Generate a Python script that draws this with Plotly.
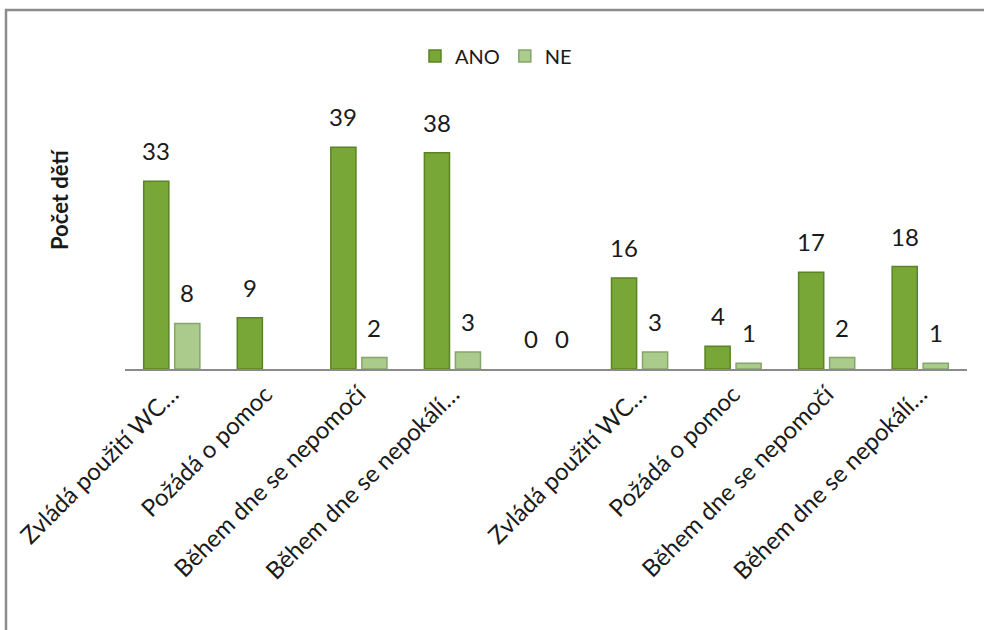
import plotly.graph_objects as go

categories = ["Zvládá použití WC…", "Požádá o pomoc", "Během dne se nepomočí", "Během dne se nepokálí…", "",
              "Zvládá použití WC…", "Požádá o pomoc", "Během dne se nepomočí", "Během dne se nepokálí…"]
ano = [33, 9, 39, 38, 0, 16, 4, 17, 18]
ne = [8, None, 2, 3, 0, 3, 1, 2, 1]
series_names = ["ANO", "NE"]
y_title = "Počet dětí"

W, H = 984, 630
L, R, T, B = 125, 17, 113, 261
pw, ph = W - L - R, H - T - B

def px_x(p):
    return (p - L) / pw

def px_y(p):
    return (H - B - p) / ph

FONT = "Lato"
idx = list(range(len(categories)))

def edge_widths(vals):
    return [1.5 if (v is not None and v > 0) else 0 for v in vals]

fig = go.Figure()
fig.add_trace(go.Bar(x=idx, y=ano, name=series_names[0],
                     marker=dict(color="#79a737", line=dict(color="#5a8424", width=edge_widths(ano)))))
fig.add_trace(go.Bar(x=idx, y=ne, name=series_names[1],
                     marker=dict(color="#aacb8b", line=dict(color="#86a56a", width=edge_widths(ne)))))

annotations = []
for vals, shift in ((ano, -15.5), (ne, 15.5)):
    for i, v in zip(idx, vals):
        if v is None:
            continue
        annotations.append(dict(x=i, y=v, xref="x", yref="y", text=str(v), showarrow=False,
                                xshift=shift, yshift=14, yanchor="bottom",
                                font=dict(family=FONT, size=24, color="#1a1a1a")))

annotations.append(dict(x=px_x(59), y=px_y(200), xref="paper", yref="paper", text="<b>" + y_title + "</b>",
                        xanchor="center", yanchor="middle",
                        textangle=-90, showarrow=False, font=dict(family=FONT, size=22, color="#1a1a1a")))

fig.update_layout(
    width=W, height=H,
    margin=dict(l=L, r=R, t=T, b=B, autoexpand=False),
    paper_bgcolor="white", plot_bgcolor="white",
    barmode="group", bargap=0.337, bargroupgap=0.19,
    showlegend=True,
    legend=dict(orientation="h", x=px_x(496), xanchor="center", y=px_y(56), yanchor="middle",
                font=dict(family=FONT, size=20, color="#1a1a1a"), itemwidth=30, traceorder="normal"),
    xaxis=dict(tickvals=idx, ticktext=categories, range=[-0.5, len(categories) - 0.5],
               tickangle=-45, showline=True, linecolor="#8a8a8a", linewidth=1.5,
               showgrid=False, zeroline=False, ticks="", automargin=False,
               tickfont=dict(family=FONT, size=24, color="#1a1a1a")),
    yaxis=dict(range=[0, 45], showticklabels=False, showgrid=False, zeroline=False, showline=False,
               automargin=False),
    annotations=annotations,
    shapes=[dict(type="rect", xref="paper", yref="paper",
                 x0=px_x(6), x1=px_x(995), y0=px_y(645), y1=px_y(10),
                 line=dict(color="#8c8c8c", width=2.5), layer="below")],
)

fig.write_html("out.html")
